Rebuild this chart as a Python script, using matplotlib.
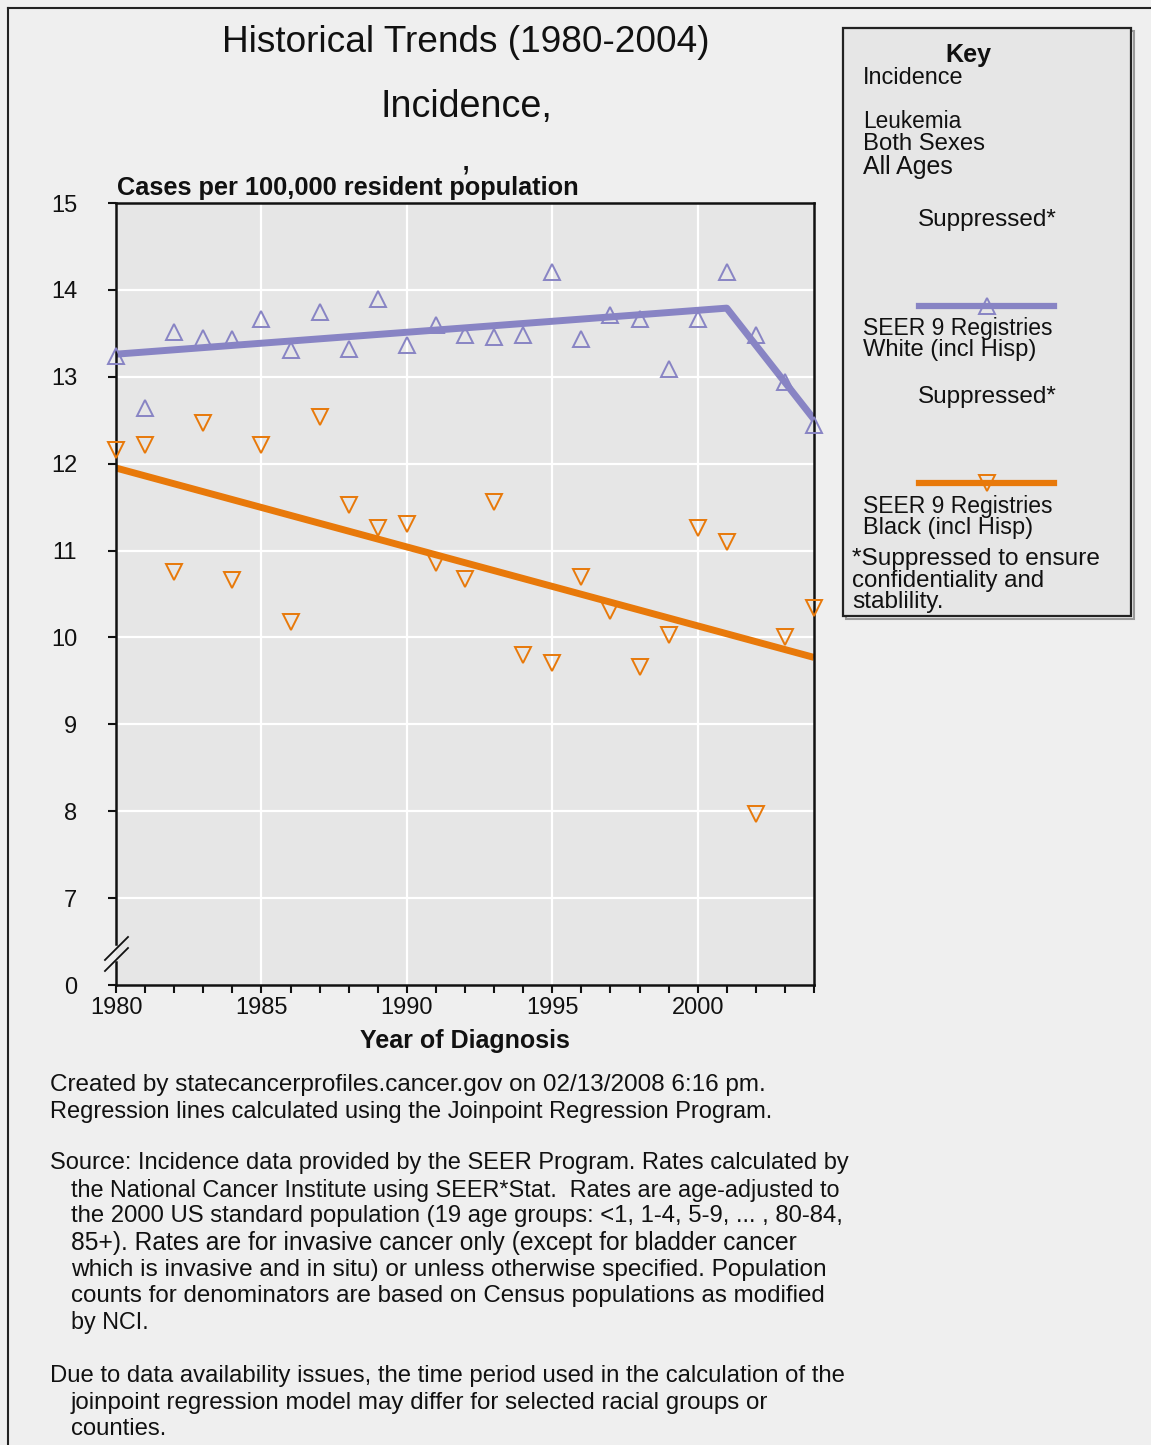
import matplotlib
matplotlib.use("Agg")
import matplotlib.pyplot as plt
from matplotlib.lines import Line2D
from matplotlib.patches import Rectangle

# ---------------- data ----------------
years = list(range(1980, 2005))
white_rates = [13.24, 12.64, 13.51, 13.45, 13.44, 13.66, 13.31, 13.74, 13.32, 13.89,
               13.36, 13.60, 13.48, 13.46, 13.48, 14.21, 13.43, 13.71, 13.66, 13.09,
               13.66, 14.21, 13.48, 12.94, 12.45]
black_rates = [12.16, 12.21, 10.75, 12.47, 10.66, 12.21, 10.18, 12.54, 11.53, 11.26,
               11.30, 10.86, 10.67, 11.56, 9.80, 9.71, 10.69, 10.31, 9.66, 10.03,
               11.26, 11.10, 7.97, 10.00, 10.34]
white_trend_years = [1980, 2001, 2004]
white_trend_vals = [13.26, 13.79, 12.51]
black_trend_years = [1980, 2004]
black_trend_vals = [11.95, 9.77]
ytick_vals = [6, 7, 8, 9, 10, 11, 12, 13, 14, 15]
ytick_labels = ["0", "7", "8", "9", "10", "11", "12", "13", "14", "15"]
xlabel_years = [1980, 1985, 1990, 1995, 2000]

W, H = 1151, 1445
PURPLE = "#8884c4"
ORANGE = "#e8790a"
FONT = "Liberation Sans"

fig = plt.figure(figsize=(W / 100, H / 100), dpi=100)
fig.patch.set_facecolor("#efefef")
renderer = fig.canvas.get_renderer()


def fx(px):
    return px / W


def fy(py):
    return 1 - py / H


def txt(x, y, s, size, ha="left", va="center", weight="normal", width=None, **kw):
    t = fig.text(fx(x), fy(y), s, fontsize=size, ha=ha, va=va, weight=weight,
                 family=FONT, color="#111111", **kw)
    if width is not None:
        bb = t.get_window_extent(renderer=renderer)
        t.set_fontsize(size * width / bb.width)
    return t


# figure frame (top and left)
fig.add_artist(Line2D([fx(8), fx(1151)], [fy(8), fy(8)], color="#222222", lw=1.5))
fig.add_artist(Line2D([fx(8), fx(8)], [fy(8), fy(1445)], color="#222222", lw=1.5))

# ---------------- axes ----------------
ax_l, ax_r, ax_t, ax_b = 116, 814, 203, 985
ax = fig.add_axes([fx(ax_l), fy(ax_b), (ax_r - ax_l) / W, (ax_b - ax_t) / H])
ax.set_facecolor("#e6e6e6")
ax.set_xlim(1980, 2004)
ax.set_ylim(6, 15)

for yv in ytick_vals[1:-1]:
    ax.axhline(yv, color="white", lw=1.6, zorder=0)
for xv in xlabel_years[1:]:
    ax.axvline(xv, color="white", lw=1.6, zorder=0)

ax.plot(white_trend_years, white_trend_vals, color=PURPLE, lw=5, zorder=2,
        solid_capstyle="butt")
ax.plot(black_trend_years, black_trend_vals, color=ORANGE, lw=5, zorder=2,
        solid_capstyle="butt")
ax.plot(years, white_rates, ls="none", marker="^", ms=11, mfc="none", mec=PURPLE,
        mew=1.4, zorder=3, clip_on=False)
ax.plot(years, black_rates, ls="none", marker="v", ms=11, mfc="none", mec=ORANGE,
        mew=1.4, zorder=3, clip_on=False)

ax.set_xticks(years)
ax.set_xticklabels([str(y) if y in xlabel_years else "" for y in years],
                   family=FONT, fontsize=17)
ax.set_yticks(ytick_vals)
ax.set_yticklabels(ytick_labels, family=FONT, fontsize=17)
ax.tick_params(axis="x", direction="out", length=6, width=1.5, pad=3, colors="#111111")
ax.tick_params(axis="y", direction="out", length=6, width=1.5, pad=22, colors="#111111")
for sp in ["top", "right", "bottom"]:
    ax.spines[sp].set_color("#111111")
    ax.spines[sp].set_linewidth(1.8)
ax.spines["left"].set_visible(False)
# left spine with break
ax.plot([0, 0], [0.0, 0.030], transform=ax.transAxes, color="#111111", lw=1.8,
        clip_on=False)
ax.plot([0, 0], [0.052, 1.0], transform=ax.transAxes, color="#111111", lw=1.8,
        clip_on=False)
ax.plot([-0.0158, 0.0172], [0.032, 0.0614], transform=ax.transAxes, color="#111111",
        lw=1.3, clip_on=False)
ax.plot([-0.0158, 0.0172], [0.0179, 0.0473], transform=ax.transAxes, color="#111111",
        lw=1.3, clip_on=False)

# ---------------- titles ----------------
txt(466, 42, "Historical Trends (1980-2004)", 26, ha="center", width=488)
txt(466, 107, "Incidence,", 26, ha="center", width=171)
txt(466, 160, ",", 26, ha="center")
txt(117, 188, "Cases per 100,000 resident population", 15, weight="bold", width=465)
txt(465, 1041, "Year of Diagnosis", 15, ha="center", weight="bold", width=211)

# ---------------- legend box ----------------
fig.add_artist(Rectangle((fx(846), fy(619)), (1131 - 843) / W, (616 - 28) / H,
                         transform=fig.transFigure, facecolor="none",
                         edgecolor="#9a9a9a", lw=1.5))
fig.add_artist(Rectangle((fx(843), fy(616)), (1131 - 843) / W, (616 - 28) / H,
                         transform=fig.transFigure, facecolor="#e6e6e6",
                         edgecolor="#222222", lw=1.6))
txt(968, 55, "Key", 17, ha="center", weight="bold", width=46)
txt(863, 78, "Incidence", 15, width=101)
txt(863, 122, "Leukemia", 15, width=99)
txt(863, 144, "Both Sexes", 15, width=123)
txt(863, 167, "All Ages", 15, width=90)
txt(918, 220, "Suppressed*", 15, width=139)
fig.add_artist(Line2D([fx(919), fx(1054)], [fy(306), fy(306)], color=PURPLE, lw=4.5))
fig.add_artist(Line2D([fx(987)], [fy(306)], ls="none", marker="^", ms=11, mfc="none",
                      mec=PURPLE, mew=1.4))
txt(863, 328, "SEER 9 Registries", 15, width=190)
txt(863, 350, "White (incl Hisp)", 15, width=173)
txt(918, 397, "Suppressed*", 15, width=139)
fig.add_artist(Line2D([fx(919), fx(1054)], [fy(483), fy(483)], color=ORANGE, lw=4.5))
fig.add_artist(Line2D([fx(987)], [fy(483)], ls="none", marker="v", ms=11, mfc="none",
                      mec=ORANGE, mew=1.4))
txt(863, 506, "SEER 9 Registries", 15, width=190)
txt(863, 528, "Black (incl Hisp)", 15, width=170)
txt(852, 559, "*Suppressed to ensure", 15, width=248)
txt(852, 581, "confidentiality and", 15, width=193)
txt(852, 602, "stablility.", 15, width=92)

# ---------------- footer ----------------
footer = [
    (50, 1085, "Created by statecancerprofiles.cancer.gov on 02/13/2008 6:16 pm.", 718),
    (50, 1112, "Regression lines calculated using the Joinpoint Regression Program.", 725),
    (50, 1163, "Source: Incidence data provided by the SEER Program. Rates calculated by", 798),
    (71, 1190, "the National Cancer Institute using SEER*Stat.  Rates are age-adjusted to", 770),
    (71, 1216, "the 2000 US standard population (19 age groups: <1, 1-4, 5-9, ... , 80-84,", 775),
    (71, 1243, "85+). Rates are for invasive cancer only (except for bladder cancer", 728),
    (71, 1270, "which is invasive and in situ) or unless otherwise specified. Population", 760),
    (71, 1296, "counts for denominators are based on Census populations as modified", 758),
    (71, 1323, "by NCI.", 78),
    (50, 1376, "Due to data availability issues, the time period used in the calculation of the", 796),
    (71, 1403, "joinpoint regression model may differ for selected racial groups or", 700),
    (71, 1429, "counties.", 96),
]
for x, y, s, w in footer:
    txt(x, y, s, 15, width=w)

fig.savefig("out.png", dpi=100, facecolor=fig.get_facecolor())
